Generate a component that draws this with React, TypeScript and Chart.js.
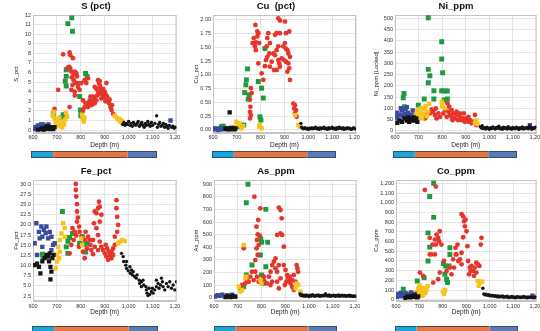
import React, { useEffect, useRef } from 'react';
import { Chart, registerables } from 'chart.js';

Chart.register(...registerables);

type Pts = [number, number][];

const FONT = '"Liberation Sans", Arial, sans-serif';
const depthMin = 600;
const depthMax = 1200;
const depthStep = 100;

const zoneNames = ['Upper', 'Main', 'Lower'];
const zoneWidths = [22, 74, 29];

// ---------------- S (pct) ----------------
const S_blue: Pts = [[605,0.1],[610,0.3],[615,0.2],[620,0.5],[625,0.3],[630,0.1],[635,0.4],[640,0.6],[645,0.3],[650,0.5],[655,0.2],[660,0.4],[665,0.6],[670,0.3],[675,0.2],[1175,1.0]];
const S_dark: Pts = [[620,0.05],[632,0.1],[640,0.2],[645,0.05],[650,0.1],[655,0.3],[660,0.15],[662,0.4],[665,0.25],[670,0.1],[675,0.3],[680,0.2],[685,0.1],[690,0.3]];
const S_tail: Pts = [[975,0.6],[980,0.8],[985,0.5],[990,0.7],[995,0.6],[1000,0.9],[1005,0.5],[1010,0.7],[1015,0.4],[1020,0.8],[1025,0.6],[1030,0.5],[1035,0.7],[1040,0.9],[1045,0.4],[1050,0.6],[1055,0.8],[1060,0.5],[1065,0.3],[1070,0.7],[1075,0.5],[1080,0.9],[1085,0.6],[1090,0.4],[1095,0.8],[1100,0.5],[1110,0.7],[1117,1.5],[1120,0.3],[1125,0.6],[1130,0.8],[1135,0.4],[1140,0.5],[1145,0.7],[1150,0.3],[1155,0.6],[1160,0.4],[1165,0.2],[1170,0.5],[1180,0.3],[1185,0.4],[1190,0.2],[1195,0.3]];
const S_yellow: Pts = [[683,1.5],[686,1.9],[690,1.2],[695,0.8],[698,0.4],[702,1.0],[706,0.5],[710,1.3],[714,0.7],[718,0.4],[722,0.3],[726,0.9],[730,0.6],[734,1.1],[738,1.8],[742,1.4],[805,1.6],[808,1.2],[812,0.9],[815,1.3],[942,1.5],[950,1.3],[955,1.1],[960,1.2],[965,0.9],[970,1.0],[975,0.8]];
const S_red: Pts = [[690,2.2],[705,4.2],[726,7.9],[753,8.1],[756,7.8],[767,7.5],[751,6.6],[756,6.4],[760,6.1],[774,6.1],[781,5.9],[784,5.6],[770,5.2],[779,4.9],[765,4.7],[788,4.5],[774,4.0],[795,4.2],[753,2.4],[816,5.2],[830,5.4],[823,4.9],[809,3.1],[820,2.8],[830,2.4],[837,3.1],[840,3.5],[848,3.0],[851,3.5],[858,2.8],[865,3.1],[872,5.2],[876,4.9],[879,4.5],[886,4.2],[893,4.3],[900,4.0],[904,3.7],[910,3.5],[914,3.1],[918,2.8],[924,2.4],[928,2.1],[935,1.7],[879,3.8],[893,3.7],[886,3.3],[865,4.3],[872,4.0],[858,4.5],[907,4.9],[879,5.1],[809,2.1],[816,2.4],[834,2.8],[802,4.9],[792,4.9],[770,5.8],[762,5.5],[778,6.0],[745,6.5],[760,4.2],[775,3.6],[845,2.6],[880,4.6],[890,3.9],[897,3.4],[903,3.0],[868,3.6],[855,3.3],[930,2.6],[920,3.2]];
const S_green: Pts = [[635,0.6],[685,1.7],[726,1.6],[719,1.3],[735,5.1],[739,5.6],[739,6.3],[739,4.6],[746,11.1],[762,11.7],[765,10.3],[795,3.5],[798,2.1],[802,1.7],[800,1.5],[806,2.0],[820,5.9],[826,5.6]];

// ---------------- Cu (pct) ----------------
const Cu_blue: Pts = [[603,0.01],[608,0.03],[615,0.02],[622,0.0],[628,0.03],[635,0.01],[642,0.02],[648,0.04]];
const Cu_dark: Pts = [[652,0.02],[658,0.01],[662,0.03],[666,0.02],[670,0.32],[672,0.01],[676,0.04],[680,0.02],[685,0.03],[690,0.01],[695,0.03]];
const Cu_tail: Pts = [[969,0.12],[972,0.05],[976,0.03],[980,0.02],[985,0.04],[990,0.02],[995,0.03],[1000,0.01],[1005,0.03],[1010,0.02],[1015,0.04],[1020,0.02],[1025,0.03],[1030,0.05],[1035,0.02],[1040,0.03],[1045,0.01],[1050,0.04],[1055,0.02],[1060,0.03],[1065,0.05],[1070,0.02],[1075,0.03],[1080,0.01],[1085,0.04],[1090,0.02],[1095,0.03],[1100,0.05],[1105,0.02],[1110,0.03],[1115,0.01],[1120,0.04],[1125,0.02],[1130,0.05],[1135,0.03],[1140,0.02],[1145,0.04],[1150,0.01],[1155,0.03],[1160,0.02],[1165,0.04],[1170,0.02],[1175,0.03],[1180,0.01],[1185,0.02],[1190,0.04],[1195,0.02]];
const Cu_yellow: Pts = [[691,0.06],[698,0.15],[705,0.09],[712,0.12],[719,0.03],[726,0.07],[794,0.06],[797,0.09],[804,0.03],[944,0.27],[958,0.09],[965,0.06]];
const Cu_red: Pts = [[778,1.91],[786,1.79],[790,1.76],[786,1.70],[780,1.59],[771,1.67],[766,1.58],[776,1.52],[790,1.21],[759,0.76],[762,0.67],[755,0.55],[757,0.42],[755,0.33],[759,0.27],[755,0.21],[811,0.91],[804,1.03],[832,1.76],[828,1.67],[839,1.58],[836,1.39],[828,1.33],[822,1.27],[818,1.16],[839,1.15],[846,1.24],[853,1.39],[860,1.73],[867,1.76],[874,2.03],[881,1.99],[881,1.76],[874,1.52],[867,1.45],[860,1.36],[874,1.27],[881,1.15],[867,1.09],[856,1.09],[878,1.21],[902,1.97],[906,1.76],[895,1.52],[906,1.48],[912,1.45],[916,1.39],[898,1.27],[906,1.24],[916,1.21],[920,1.12],[912,1.06],[923,1.33],[923,0.91],[920,1.79],[902,1.58],[937,0.48],[944,0.45],[941,0.39],[948,0.36],[944,0.30],[951,0.24],[888,1.30],[825,1.52],[794,1.58],[780,1.45]];
const Cu_green: Pts = [[635,0.06],[642,0.07],[715,0.06],[729,0.09],[745,1.11],[740,0.91],[738,0.82],[733,0.68],[752,0.64],[748,0.56],[790,0.88],[804,0.76],[811,0.58],[797,0.24],[801,0.18],[818,1.48]];

// ---------------- Ni_ppm ----------------
const Ni_blue: Pts = [[605,60],[610,80],[615,50],[620,70],[625,100],[630,90],[635,65],[640,75],[645,95],[650,105],[655,80],[660,60],[665,50],[670,70],[675,90],[1172,25]];
const Ni_dark: Pts = [[610,35],[620,45],[630,40],[640,55],[650,45],[655,60],[660,40],[665,55],[670,45],[675,50],[680,60],[685,45],[690,55],[695,40]];
const Ni_tail: Pts = [[962,18],[966,12],[970,22],[975,10],[980,14],[985,8],[990,16],[995,11],[1000,7],[1005,14],[1010,10],[1015,17],[1020,12],[1025,8],[1030,15],[1035,11],[1040,20],[1045,9],[1050,13],[1055,7],[1060,16],[1065,11],[1070,14],[1075,8],[1080,18],[1085,10],[1090,13],[1095,7],[1100,15],[1105,11],[1110,9],[1115,16],[1120,12],[1125,6],[1130,14],[1135,10],[1140,17],[1145,8],[1150,13],[1155,11],[1160,15],[1165,9],[1170,20],[1175,12],[1180,7],[1185,14],[1190,10],[1195,16]];
const Ni_yellow: Pts = [[690,70],[695,90],[700,60],[705,80],[710,100],[715,55],[720,75],[725,95],[730,110],[735,65],[740,85],[745,120],[798,129],[800,110],[810,100],[939,36],[945,45],[950,30]];
const Ni_red: Pts = [[755,95],[769,70],[776,55],[784,77],[773,99],[822,122],[830,107],[826,85],[833,70],[840,62],[847,77],[854,55],[861,70],[868,47],[875,62],[882,47],[889,55],[896,40],[904,55],[911,40],[918,47],[925,33],[932,40],[939,70],[946,25],[875,77],[861,85],[840,92],[805,77],[812,92],[791,62],[748,77],[762,85],[734,70],[727,55],[844,47],[819,62],[892,77],[911,62]];
const Ni_green: Pts = [[638,166],[635,147],[640,107],[699,114],[724,141],[741,503],[741,273],[748,245],[741,214],[765,178],[765,141],[798,396],[798,319],[802,258],[798,178],[812,177],[822,177],[822,141],[808,137]];

// ---------------- Fe_pct ----------------
const Fe_blue: Pts = [[614,20.4],[607,15.5],[625,18.3],[635,19.6],[628,16.7],[639,17.1],[645,18.8],[656,19.6],[653,18.0],[663,16.7],[670,18.3],[677,17.1],[684,15.1],[691,15.5],[617,12.6],[639,14.6],[677,13.8]];
const Fe_dark: Pts = [[607,10.1],[617,10.5],[625,9.7],[631,8.1],[639,11.0],[649,11.8],[656,12.6],[663,12.2],[667,11.0],[673,9.7],[677,8.5],[673,6.6],[681,11.8],[686,12.6],[670,13.0]];
const Fe_tail: Pts = [[970,13.0],[977,12.2],[979,11.0],[988,10.1],[991,9.3],[998,8.7],[1005,9.7],[1007,8.1],[1016,7.7],[1019,8.5],[1025,7.3],[1032,6.9],[1035,7.7],[1044,6.4],[1046,5.6],[1053,6.0],[1060,6.4],[1063,5.2],[1072,4.8],[1074,4.0],[1077,3.2],[1081,2.6],[1088,2.9],[1095,3.6],[1099,4.4],[1102,3.2],[1109,4.0],[1116,4.8],[1123,5.6],[1127,4.4],[1133,5.2],[1141,6.0],[1144,4.8],[1151,4.0],[1158,5.6],[1165,4.8],[1172,6.0],[1179,4.4],[1186,5.2],[1193,4.0],[1200,6.0],[991,11.0],[1012,8.9],[1053,4.8],[1085,4.4],[1116,6.4],[1137,6.9]];
const Fe_yellow: Pts = [[705,14.6],[712,16.3],[719,17.9],[726,20.4],[733,19.2],[698,12.6],[700,11.0],[695,9.3],[709,11.8],[712,13.4],[733,17.1],[802,16.7],[806,15.1],[963,15.9],[974,16.3],[984,16.0],[956,15.5]];
const Fe_red: Pts = [[779,30.1],[779,28.6],[781,27.0],[784,25.1],[784,23.3],[788,21.8],[784,20.8],[793,19.6],[774,18.3],[781,17.4],[770,16.3],[760,15.1],[753,13.0],[795,18.3],[802,17.1],[792,14.6],[816,11.8],[820,18.3],[830,17.1],[837,16.3],[840,15.1],[844,13.8],[851,12.8],[855,20.4],[858,23.3],[865,22.9],[872,24.1],[876,25.7],[879,24.5],[886,22.5],[879,20.8],[865,19.2],[872,17.5],[879,15.9],[886,14.6],[893,13.8],[900,13.0],[907,12.2],[914,11.4],[921,12.6],[928,13.4],[935,14.2],[942,15.1],[904,15.1],[910,14.2],[918,13.4],[928,11.8],[935,12.6],[949,26.1],[949,24.1],[952,22.0],[956,20.0],[952,18.3],[942,17.1],[816,16.3],[826,14.2],[851,16.3],[858,14.6],[872,13.8],[809,13.4],[765,19.2]];
const Fe_green: Pts = [[639,12.8],[642,12.0],[746,16.0],[753,16.9],[739,14.6],[723,23.3],[765,17.9],[806,17.1],[812,15.1],[795,15.5],[826,15.5],[820,13.3],[746,13.0]];

// ---------------- As_ppm ----------------
const As_blue: Pts = [[605,10],[615,20],[625,15],[635,25],[645,10],[655,20],[665,15],[675,25],[685,10]];
const As_dark: Pts = [[650,5],[660,10],[670,5],[680,15],[690,8]];
const As_tail: Pts = [[962,30],[966,18],[970,24],[975,14],[980,20],[985,12],[990,22],[995,16],[1000,10],[1005,20],[1010,14],[1015,24],[1020,16],[1025,12],[1030,20],[1035,15],[1040,22],[1045,12],[1050,18],[1055,14],[1060,20],[1065,16],[1070,32],[1075,18],[1080,14],[1085,22],[1090,12],[1095,18],[1100,15],[1105,20],[1110,12],[1115,18],[1120,14],[1125,22],[1130,12],[1135,16],[1140,20],[1145,14],[1150,18],[1155,12],[1160,16],[1165,14],[1170,20],[1175,12],[1180,16],[1185,10],[1190,14],[1195,12]];
const As_yellow: Pts = [[725,418],[704,87],[711,48],[718,61],[732,154],[736,167],[795,140],[800,114],[948,114],[954,101],[943,74],[964,48]];
const As_red: Pts = [[770,802],[795,709],[786,617],[779,564],[784,503],[793,492],[781,458],[788,418],[779,392],[725,392],[784,339],[774,299],[760,206],[753,167],[746,127],[739,140],[732,114],[718,101],[774,206],[781,167],[788,127],[767,140],[873,715],[880,696],[885,630],[880,511],[887,498],[894,405],[866,498],[859,312],[852,286],[845,259],[859,233],[866,206],[873,259],[838,206],[831,167],[838,101],[845,127],[866,127],[873,74],[880,154],[894,259],[901,220],[908,180],[915,140],[922,114],[929,87],[936,61],[911,154],[905,127],[919,167],[929,140],[943,127],[948,259],[951,233],[954,206],[936,180],[898,101],[810,167],[812,132],[824,114]];
const As_green: Pts = [[743,900],[736,754],[818,701],[797,466],[800,440],[826,440],[795,339],[800,180],[760,259],[736,180],[818,246],[810,114],[711,74],[725,87]];

// ---------------- Co_ppm ----------------
const Co_blue: Pts = [[605,30],[610,60],[615,40],[620,70],[625,35],[630,55],[640,40],[645,65],[650,30],[655,50],[660,45],[665,75],[670,35],[680,60],[1183,41]];
const Co_dark: Pts = [[640,20],[650,35],[660,25],[670,40],[675,30],[680,45],[690,25],[695,35]];
const Co_tail: Pts = [[971,119],[975,60],[980,50],[985,58],[990,45],[995,52],[1000,40],[1005,48],[1010,38],[1015,45],[1020,35],[1025,42],[1030,30],[1035,38],[1040,28],[1045,36],[1050,30],[1055,40],[1060,25],[1065,32],[1070,28],[1075,36],[1080,22],[1085,30],[1090,26],[1095,34],[1100,24],[1105,30],[1110,20],[1115,28],[1120,32],[1125,24],[1130,30],[1135,22],[1140,28],[1145,34],[1150,24],[1155,30],[1160,20],[1165,28],[1170,24],[1175,30],[1180,22],[1185,26],[1190,20],[1195,28]];
const Co_yellow: Pts = [[690,80],[695,110],[700,60],[705,130],[710,90],[715,50],[720,120],[725,70],[730,100],[735,140],[700,150],[712,40],[800,80],[805,60],[810,100],[949,194],[959,177],[968,188],[953,143]];
const Co_red: Pts = [[723,1132],[770,1166],[787,706],[773,672],[780,638],[766,620],[784,603],[794,569],[770,569],[756,569],[751,467],[744,467],[766,467],[744,638],[702,280],[716,245],[787,280],[780,211],[759,177],[837,262],[848,331],[854,535],[858,467],[866,399],[863,569],[880,484],[873,416],[880,365],[880,883],[887,859],[891,808],[897,825],[894,757],[901,706],[887,644],[905,552],[908,399],[915,331],[922,348],[929,297],[933,245],[936,331],[943,280],[950,365],[956,348],[962,569],[965,638],[943,382],[919,297],[912,262],[844,416],[830,331],[816,297],[805,399],[855,467]];
const Co_green: Pts = [[631,109],[634,75],[691,194],[720,228],[761,1200],[744,1064],[761,849],[737,689],[744,542],[737,399],[802,372],[812,348],[830,535],[830,467],[826,348],[809,262],[816,211],[820,177]];

// ---------------- panel setup ----------------
const C = {
  tail: '#141414',
  dark: '#141414',
  blue: '#3b4b9c',
  yellow: '#f6c41d',
  red: '#e6352b',
  green: '#1f9a3e',
};

interface PanelDef {
  title: string; yTitle: string;
  left: number; top: number; height: number;
  chartLeft: number; chartRight: number; chartBottom: number;
  yMin: number; yMax: number; yStep: number; dec: number;
  series: { tail: Pts; dark: Pts; blue: Pts; yellow: Pts; red: Pts; green: Pts };
  strip: { x: number; y: number; w: number };
  depthTitlePad: number; tickPad: number;
}

const panels: PanelDef[] = [
  { title: 'S (pct)', yTitle: 'S_pct', left: 0, top: 0, height: 165, chartLeft: 33, chartRight: 177, chartBottom: 133,
    yMin: -0.3, yMax: 12, yStep: 1, dec: 0, series: { tail: S_tail, dark: S_dark, blue: S_blue, yellow: S_yellow, red: S_red, green: S_green },
    strip: { x: 31, y: 151, w: 126 }, depthTitlePad: 16, tickPad: 1 },
  { title: 'Cu  (pct)', yTitle: 'Cu_pct', left: 180, top: 0, height: 165, chartLeft: 33, chartRight: 176, chartBottom: 133,
    yMin: -0.055, yMax: 2.09, yStep: 0.25, dec: 2, series: { tail: Cu_tail, dark: Cu_dark, blue: Cu_blue, yellow: Cu_yellow, red: Cu_red, green: Cu_green },
    strip: { x: 212, y: 151, w: 124 }, depthTitlePad: 16, tickPad: 1 },
  { title: 'Ni_ppm', yTitle: 'Ni_ppm [Locked]', left: 360, top: 0, height: 165, chartLeft: 35, chartRight: 177, chartBottom: 133,
    yMin: -10, yMax: 515, yStep: 50, dec: 0, series: { tail: Ni_tail, dark: Ni_dark, blue: Ni_blue, yellow: Ni_yellow, red: Ni_red, green: Ni_green },
    strip: { x: 393, y: 151, w: 124 }, depthTitlePad: 16, tickPad: 1 },
  { title: 'Fe_pct', yTitle: 'Fe_pct', left: 0, top: 165, height: 166, chartLeft: 33, chartRight: 177, chartBottom: 136,
    yMin: 1.27, yMax: 31.06, yStep: 2.5, dec: 1, series: { tail: Fe_tail, dark: Fe_dark, blue: Fe_blue, yellow: Fe_yellow, red: Fe_red, green: Fe_green },
    strip: { x: 32, y: 326, w: 126 }, depthTitlePad: 15, tickPad: 2 },
  { title: 'As_ppm', yTitle: 'As_ppm', left: 180, top: 165, height: 166, chartLeft: 34, chartRight: 177, chartBottom: 136,
    yMin: -26, yMax: 934, yStep: 100, dec: 0, series: { tail: As_tail, dark: As_dark, blue: As_blue, yellow: As_yellow, red: As_red, green: As_green },
    strip: { x: 214, y: 326, w: 123 }, depthTitlePad: 15, tickPad: 2 },
  { title: 'Co_ppm', yTitle: 'Co_ppm', left: 360, top: 165, height: 166, chartLeft: 36, chartRight: 177, chartBottom: 136,
    yMin: -13, yMax: 1234, yStep: 100, dec: 0, series: { tail: Co_tail, dark: Co_dark, blue: Co_blue, yellow: Co_yellow, red: Co_red, green: Co_green },
    strip: { x: 395, y: 326, w: 123 }, depthTitlePad: 15, tickPad: 2 },
];

const toXY = (p: Pts) => p.map(([x, y]) => ({ x, y }));

const ds = (label: string, pts: Pts, color: string, style: string, r: number) => ({
  label,
  data: toXY(pts),
  backgroundColor: color,
  borderColor: color,
  borderWidth: 0,
  pointStyle: style,
  pointRadius: r,
  pointHoverRadius: r,
});

const framePlugin = {
  id: 'frame',
  beforeDatasetsDraw(chart: any) {
    const { ctx, chartArea: a } = chart;
    ctx.save();
    ctx.strokeStyle = '#c4c4c4';
    ctx.lineWidth = 1;
    ctx.strokeRect(a.left + 0.5, a.top + 0.5, a.right - a.left - 1, a.bottom - a.top - 1);
    ctx.restore();
  },
};

function Panel({ p }: { p: PanelDef }) {
  const ref = useRef<HTMLCanvasElement>(null);
  useEffect(() => {
    const titlePlugin = {
      id: 'ptitle',
      afterDraw(chart: any) {
        const { ctx } = chart;
        ctx.save();
        ctx.font = `bold 9.5px ${FONT}`;
        ctx.fillStyle = '#111';
        ctx.textAlign = 'center';
        ctx.textBaseline = 'middle';
        ctx.fillText(p.title, 96, 6);
        ctx.restore();
      },
    };
    const s = p.series;
    const chart = new Chart(ref.current!, {
      type: 'scatter',
      data: {
        datasets: [
          ds('low-grade', s.tail, C.tail, 'circle', 1.7),
          ds('low-grade top', s.dark, C.dark, 'rect', 3.0),
          ds('blue', s.blue, C.blue, 'rect', 3.1),
          ds('yellow', s.yellow, C.yellow, 'rect', 3.1),
          ds('red', s.red, C.red, 'circle', 2.4),
          ds('green', s.green, C.green, 'rect', 3.5),
        ] as any,
      },
      options: {
        animation: false,
        responsive: false,
        events: [],
        layout: { padding: { top: 15, left: 0, right: 180 - p.chartRight, bottom: 0 } },
        plugins: { legend: { display: false }, tooltip: { enabled: false }, title: { display: false } },
        scales: {
          x: {
            type: 'linear',
            min: depthMin,
            max: depthMax,
            afterFit: (sc: any) => { sc.height = p.height - p.chartBottom; sc.paddingLeft = 0; sc.paddingRight = 0; },
            ticks: {
              stepSize: depthStep, includeBounds: false, autoSkip: false, maxRotation: 0, padding: p.tickPad,
              color: '#333', font: { size: 5.5, family: FONT },
              callback: (v: any) => Number(v).toLocaleString('en-US'),
            },
            grid: { color: '#dedede', lineWidth: 0.8, drawTicks: false },
            border: { color: '#c4c4c4' },
            title: { display: true, text: 'Depth (m)', color: '#222', font: { size: 6.5, family: FONT }, padding: { top: 0, bottom: p.depthTitlePad } },
          },
          y: {
            type: 'linear',
            min: p.yMin,
            max: p.yMax,
            afterFit: (sc: any) => { sc.width = p.chartLeft; sc.paddingTop = 0; sc.paddingBottom = 0; },
            ticks: {
              stepSize: p.yStep, includeBounds: false, autoSkip: false, padding: 2,
              color: '#333', font: { size: 5.5, family: FONT },
              callback: (v: any) => (p.dec > 0 ? Number(v).toFixed(p.dec) : Number(v).toLocaleString('en-US')),
            },
            grid: { color: '#dedede', lineWidth: 0.8, drawTicks: false },
            border: { color: '#c4c4c4' },
            title: { display: true, text: p.yTitle, color: '#222', font: { size: 6, family: FONT }, padding: { top: 13, bottom: 0 } },
          },
        },
      } as any,
      plugins: [framePlugin, titlePlugin],
    });
    return () => chart.destroy();
  }, []);
  return (
    <canvas
      ref={ref}
      width={180}
      height={p.height}
      style={{ position: 'absolute', left: p.left, top: p.top, width: 180, height: p.height }}
    />
  );
}

const zoneColors = ['#1ca5d9', '#ea753b', '#5a7bb6'];

function Strip({ x, y, w }: { x: number; y: number; w: number }) {
  const ref = useRef<HTMLCanvasElement>(null);
  useEffect(() => {
    const total = zoneWidths.reduce((a, b) => a + b, 0);
    const chart = new Chart(ref.current!, {
      type: 'bar',
      data: {
        labels: [''],
        datasets: zoneWidths.map((v, i) => ({
          label: zoneNames[i],
          data: [v],
          backgroundColor: zoneColors[i],
          borderColor: '#2d3b55',
          borderWidth: { top: 1, bottom: 1, left: i === 0 ? 1 : 0, right: i === zoneWidths.length - 1 ? 1 : 0 },
          borderSkipped: false,
          barPercentage: 1,
          categoryPercentage: 1,
        })),
      },
      options: {
        indexAxis: 'y',
        animation: false,
        responsive: false,
        events: [],
        layout: { padding: 0 },
        plugins: { legend: { display: false }, tooltip: { enabled: false } },
        scales: {
          x: { stacked: true, display: false, min: 0, max: total },
          y: { stacked: true, display: false },
        },
      } as any,
    });
    return () => chart.destroy();
  }, []);
  return (
    <canvas
      ref={ref}
      width={w}
      height={7}
      style={{ position: 'absolute', left: x, top: y, width: w, height: 7 }}
    />
  );
}

export default function App() {
  return (
    <div style={{ position: 'absolute', left: 0, top: 0, width: 540, height: 331, overflow: 'hidden', background: '#fff' }}>
      {panels.map((p, i) => (
        <Panel key={'p' + i} p={p} />
      ))}
      {panels.map((p, i) => (
        <Strip key={'s' + i} x={p.strip.x} y={p.strip.y} w={p.strip.w} />
      ))}
    </div>
  );
}
